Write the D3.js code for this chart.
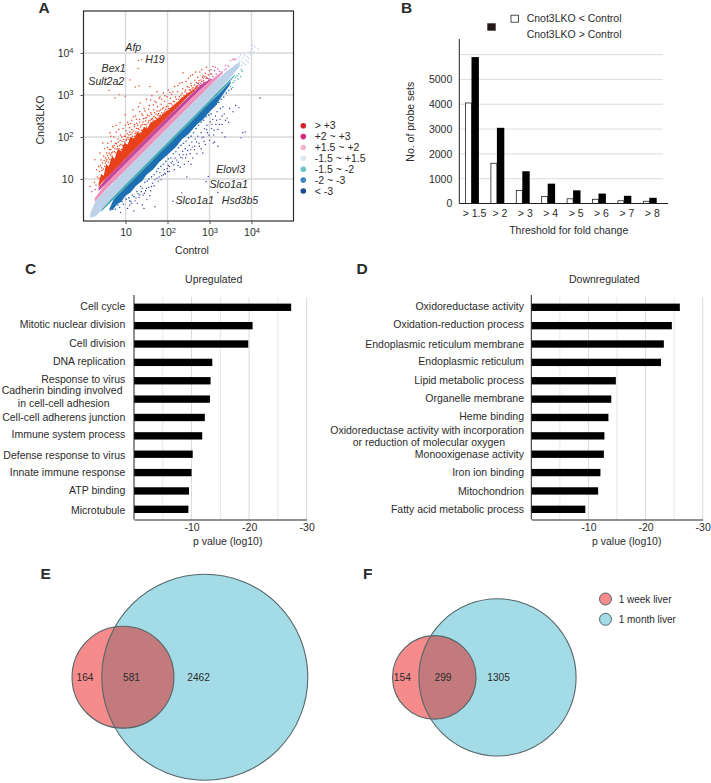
<!DOCTYPE html>
<html><head><meta charset="utf-8">
<script src="https://cdn.jsdelivr.net/npm/d3@7/dist/d3.min.js"></script>
<style>
html,body{margin:0;padding:0;background:#fff}
svg{display:block}
text{font-family:"Liberation Sans",Arial,sans-serif;fill:#2b2b2b}
</style></head><body><svg id="c" width="711" height="783"></svg>
<script>
// ---------- Panel A data (log10 control, log10 Cnot3LKO) ----------
const bandLight=[[.16,.07,.18],[.3,.12,.5],[.6,.46,.8],[1,.875,1.21],[2,1.875,2.21],[3,2.87,3.2],[3.4,3.3,3.56],[3.72,3.68,3.8]];
const bandPink=[[.27,.45,.55],[.5,.71,.85],[1,1.21,1.357],[2,2.21,2.357],[3,3.2,3.33],[3.32,3.52,3.58]];
const bandMagenta=[[.36,.72,.8],[.5,.85,.97],[1,1.357,1.476],[2,2.357,2.476],[2.8,3.14,3.25],[3.05,3.36,3.4]];
const bandOrange=[[.36,.8,.9],[.42,.9,1.12],[.48,.96,1.08],[.54,1.02,1.36],[.6,1.07,1.3],[.68,1.15,1.55],[.74,1.21,1.48],[.82,1.29,1.72],[.9,1.37,1.66],[.97,1.45,1.86],[1.05,1.526,1.82],[1.12,1.6,2.0],[1.2,1.676,1.96],[1.28,1.756,2.12],[1.36,1.836,2.08],[1.44,1.916,2.24],[1.52,1.996,2.2],[1.6,2.076,2.34],[1.7,2.176,2.4],[1.8,2.276,2.46],[1.9,2.376,2.56],[2,2.476,2.62],[2.1,2.576,2.72],[2.2,2.676,2.8],[2.4,2.876,2.98],[2.6,3.076,3.12],[2.72,3.19,3.22]];
const bandTeal=[[.42,.22,.3],[1,.805,.876],[2,1.805,1.876],[3,2.81,2.88],[3.4,3.22,3.28],[3.6,3.46,3.49]];
const bandBlue=[[.62,.24,.3],[.72,.3,.52],[.8,.4,.6],[.9,.46,.7],[1,.6,.805],[1.12,.68,.925],[1.25,.84,1.055],[1.4,.96,1.205],[1.5,1.1,1.305],[1.65,1.22,1.455],[1.8,1.4,1.605],[2,1.58,1.805],[2.2,1.76,2.005],[2.35,1.95,2.155],[2.5,2.07,2.305],[2.7,2.3,2.505],[2.85,2.42,2.66],[3,2.6,2.81],[3.15,2.75,2.95],[3.3,2.98,3.1],[3.5,3.27,3.33]];
const redDots=[.155,.82,.26,.92,.31,1.22,.27,1.46,.33,1.05,.39,1.62,.36,1.3,.42,1.45,.46,1.86,.44,1.2,.48,1.55,.5,1.72,.52,1.38,.55,1.62,.58,1.85,.6,1.5,.63,2.1,.62,1.7,.66,1.9,.68,1.55,.7,2.25,.71,1.75,.72,2.0,.74,1.65,.76,1.85,.78,2.12,.8,1.72,.82,1.95,.84,1.62,.87,2.34,.86,1.8,.88,2.05,.9,1.7,.92,1.9,.94,2.2,.95,1.78,.97,2.02,.99,2.53,1,1.82,1.01,2.15,1.03,1.95,1.05,2.35,1.06,1.8,1.08,2.05,1.1,2.22,1.11,1.9,1.13,1.98,1.15,2.4,1.16,2.1,1.18,2.65,1.19,1.95,1.21,2.25,1.22,2.02,1.24,2.5,1.25,2.12,1.27,2.33,1.28,1.98,1.3,2.2,1.31,2.72,1.33,2.42,1.35,2.81,1.35,2.1,1.37,2.28,1.39,2.55,1.4,2.15,1.42,2.36,1.44,2.68,1.45,2.22,1.47,2.45,1.49,2.3,1.5,2.9,1.52,2.52,1.53,2.2,1.55,2.38,1.57,2.75,1.58,3.2,1.58,2.28,1.6,2.58,1.62,2.42,1.63,2.98,1.65,2.33,1.67,2.65,1.68,2.48,1.7,2.85,1.72,2.38,1.73,2.55,1.75,3.08,1.76,2.72,1.78,2.45,1.8,2.62,1.82,2.95,1.83,2.52,1.85,2.78,1.87,2.48,1.88,2.68,1.9,3.05,1.92,2.58,1.93,2.85,1.95,2.55,1.97,2.72,1.99,2.96,2,2.62,2.02,3.12,2.04,2.8,2.05,2.58,2.07,2.92,2.09,2.68,2.1,3.02,2.12,2.62,2.14,2.85,2.15,2.72,2.17,3.2,2.19,2.95,2.2,2.68,2.22,2.78,2.24,3.08,2.25,2.72,2.27,2.9,2.29,3.28,2.3,2.82,2.32,3.0,2.34,2.78,2.36,3.15,2.37,3.53,2.38,2.92,2.4,2.84,2.42,3.08,2.44,3.32,2.45,2.95,2.47,3.2,2.49,3.0,2.5,3.4,2.52,3.12,2.54,2.98,2.56,3.28,2.58,3.05,2.6,3.48,2.61,3.18,2.63,3.1,2.65,3.35,2.67,3.55,2.68,3.2,2.7,3.14,2.72,3.42,2.74,3.28,2.77,3.55,2.78,3.22,2.8,3.36,2.82,3.6,2.85,3.46,2.87,3.3,2.9,3.52,2.93,3.66,2.95,3.4,3.0,3.58,3.05,3.5,3.08,3.68];
const redFuzz=[.37,1.02,.38,1.18,.4,1.32,.43,1.27,.45,1.38,.47,1.24,.49,1.44,.51,1.3,.53,1.5,.54,1.42,.56,1.46,.57,1.56,.59,1.4,.61,1.62,.63,1.46,.64,1.58,.65,1.7,.67,1.62,.69,1.78,.7,1.64,.73,1.8,.75,1.72,.77,1.62,.79,1.84,.81,1.78,.83,1.88,.85,1.72,.87,1.92,.89,1.82,.91,2,.93,1.8,.96,1.94,.98,1.88,1.0,2.02,1.02,1.92,1.04,2.08,1.06,1.98,1.09,1.94,1.1,2.12,1.13,2.06,1.15,2.18,1.17,2.02,1.2,2.14,1.22,2.3,1.23,2.08,1.26,2.2,1.29,2.28,1.3,2.12,1.32,2.18,1.34,2.36,1.36,2.24,1.38,2.16,1.41,2.3,1.43,2.44,1.46,2.3,1.48,2.38,1.5,2.24,1.51,2.46,1.54,2.34,1.56,2.5,1.59,2.4,1.61,2.34,1.62,2.54,1.64,2.44,1.66,2.4,1.69,2.58,1.71,2.46,1.74,2.44,1.75,2.62,1.77,2.52,1.79,2.56,1.81,2.5,1.84,2.64,1.86,2.58,1.89,2.54,1.91,2.7,1.94,2.62,1.96,2.66,1.98,2.6,2.01,2.74,2.03,2.68,2.06,2.66,2.08,2.8,2.11,2.76,2.13,2.7,2.16,2.84,2.18,2.78,2.21,2.9,2.23,2.82,2.26,2.8,2.28,2.96,2.31,2.88,2.33,2.92,2.35,3.04,2.39,2.98,2.41,2.94,2.43,3.12,2.46,3.04,2.48,3.02,2.51,3.18,2.53,3.06,2.55,3.12,2.57,3.22,2.59,3.14,2.62,3.08,2.64,3.24,2.66,3.16,2.69,3.3,2.71,3.22,2.73,3.18,2.75,3.34,2.79,3.28,2.83,3.42,2.86,3.34,2.89,3.44,2.92,3.4,2.97,3.48,1.0,2.28,1.07,2.3,.84,2.18,.77,2.28,.65,2.02,.57,1.75,1.12,2.32,1.19,2.48,1.26,2.42,1.34,2.6,1.41,2.52,1.46,2.62,1.55,2.66,1.6,2.88,1.66,2.76,1.73,2.82,1.8,2.92,1.86,2.9,1.94,2.98,2.06,3.06,2.13,3.08,2.25,3.22,2.35,3.3,2.55,3.46];
const redTop=[1.31,3.82,1.39,3.84,1.3,3.63,1.11,3.36,.61,3.11,.75,2.93,.85,3.01,.99,2.97,1.23,3.19,1.32,3.22];
const magentaDots=[2.75,3.24,2.82,3.32,2.88,3.28,2.93,3.42,2.98,3.38,3.02,3.5,3.08,3.44,3.12,3.58,3.16,3.5,3.2,3.62,3.24,3.56,3.04,3.6,3.14,3.66,2.72,3.28,2.86,3.4,.2,.7,.3,.85,.28,.75];
const pinkDots=[3.05,3.32,3.12,3.4,3.18,3.42,3.24,3.48,3.3,3.56,3.36,3.6,3.4,3.62,3.44,3.7,3.5,3.82,3.55,3.85,3.6,3.86,3.62,3.85,3.58,3.84,3.46,3.68,3.38,3.7];
const lightDots=[3.72,3.82,3.78,3.78,3.8,3.88,3.84,3.95,3.88,3.82,3.9,3.92,3.93,3.87,3.95,4.02,3.98,3.96,4,4.03,4.02,4.1,4.06,4.02,4.08,4.15,4.15,4.1,4.02,4.18,3.7,3.9,3.76,3.7,3.82,3.75,3.66,3.85,3.86,3.72,3.74,3.96,3.92,3.78];
const tealDots=[3.5,3.2,3.56,3.3,3.6,3.34,3.62,3.42,3.66,3.46,3.7,3.5,3.74,3.44,3.68,3.38,3.78,3.56,3.55,3.18,3.45,3.12,3.76,3.6];
const blueDots=[.7,.28,.76,.28,.82,.38,.86,.32,.92,.46,.95,.4,1.02,.52,1.08,.55,1.1,.48,1.16,.62,1.2,.58,1.27,.7,1.3,.65,1.36,.82,1.4,.78,1.46,.92,1.52,.95,1.56,1.0,1.62,1.05,1.68,1.1,1.74,1.18,1.78,1.25,1.84,1.3,1.9,1.35,1.96,1.42,2.02,1.48,2.08,1.5,2.14,1.6,2.2,1.65,2.26,1.74,2.32,1.8,2.38,1.85,2.44,1.9,2.5,1.98,2.56,2.02,2.62,2.1,2.68,2.2,2.74,2.28,2.8,2.35,2.86,2.4,2.92,2.48,2.98,2.52,3.04,2.55,3.1,2.72,3.16,2.78,3.22,2.82,3.28,2.9,3.34,2.95,3.4,3.05,3.46,3.1,3.52,3.14];
const navyDots=[4.2,2.93,3.85,2.12,3.79,2.1,3.75,1.98,3.37,2,3.09,1.86,3.2,1.78,2.97,1.06,2.92,.94,3.2,.68,2.13,.47,1.7,.34,2.46,1.05,2.34,.67,1.51,.51,1.2,.24,1.05,.3,.88,.2,1.4,.38,1.28,.42,1.15,.42,1.34,.62,1.45,.66,1.58,.6,1.62,.82,1.78,.95,1.85,.98,1.9,1.1,1.95,1.12,2.0,1.18,2.05,1.3,2.16,1.22,2.26,1.4,2.3,1.28,2.35,1.5,2.4,1.35,2.45,1.58,2.5,1.42,2.55,1.7,2.6,1.5,2.65,1.78,2.7,1.6,2.75,1.85,2.8,1.72,2.85,2.0,2.9,1.82,2.95,2.1,3.0,1.92,3.05,2.2,3.1,2.05,3.15,2.3,3.2,2.18,3.25,2.42,3.3,2.3,3.35,2.55,3.42,2.45,3.48,2.68,3.56,2.6,3.62,2.75,3.7,2.7,1.1,.38,1.25,.55,1.38,.7,1.5,.78,1.65,.9,1.75,1.02,1.82,1.15,1.92,1.22,2.02,1.32,2.12,1.42,2.18,1.5,2.28,1.58,2.36,1.66,2.42,1.72,2.52,1.8,2.58,1.88,2.66,1.95,2.72,2.02,2.8,2.1,2.88,2.2,2.94,2.28,3.02,2.36,3.08,2.42,3.14,2.5,3.18,2.6,3.26,2.68,3.32,2.72,2.56,1.35,2.84,1.62,3.12,1.88,3.3,2.1,3.46,2.35,1.44,.3,1.13,.46,1.23,.48,1.32,.56,1.42,.62,1.48,.72,1.55,.8,1.6,.72,1.68,.84,1.7,.98,1.8,1.05,1.86,1.08,1.93,1.14,1.99,1.25,2.04,1.18,2.09,1.38,2.15,1.34,2.22,1.45,2.25,1.32,2.31,1.52,2.37,1.58,2.43,1.5,2.48,1.68,2.54,1.6,2.59,1.76,2.64,1.7,2.69,1.88,2.76,1.78,2.82,1.98,2.87,1.9,2.93,2.18,2.99,2.04,3.06,2.3,3.11,2.16,3.17,2.4,3.24,2.3,3.3,2.5,3.38,2.4];
const geneNames=["Afp","H19","Bex1","Sult2a2","Elovl3","Slco1a1","Slco1a1","Hsd3b5"];
const scatterLegend=["> +3","+2 ~ +3","+1.5 ~ +2","-1.5 ~ +1.5","-1.5 ~ -2","-2 ~ -3","< -3"];
const scatterTicks=[10,100,1000,10000];
// ---------- Panel B data ----------
const thresholds=["> 1.5","> 2","> 3","> 4","> 5","> 6","> 7","> 8"];
const koLower=[4050,1620,530,280,190,170,110,90];
const koHigher=[5900,3050,1300,800,530,400,310,230];
const countGrid=[1000,2000,3000,4000,5000,6000];
const countTicks=[0,1000,2000,3000,4000,5000];
// ---------- Panels C, D data ----------
const upTerms=["Cell cycle","Mitotic nuclear division","Cell division","DNA replication","Response to virus",["Cadherin binding involved","in cell-cell adhesion"],"Cell-cell adherens junction","Immune system process","Defense response to virus","Innate immune response","ATP binding","Microtubule"];
const upValues=[27.3,20.6,19.85,13.6,13.3,13.2,12.3,11.85,10.2,10,9.55,9.45];
const downTerms=["Oxidoreductase activity","Oxidation-reduction process","Endoplasmic reticulum membrane","Endoplasmic reticulum","Lipid metabolic process","Organelle membrane","Heme binding",["Oxidoreductase activity with incorporation","or reduction of molecular oxygen"],"Monooxigenase activity","Iron ion binding","Mitochondrion","Fatty acid metabolic process"];
const downValues=[26,24.6,23.2,22.7,14.8,14,13.5,12.8,12.7,12.1,11.7,9.45];
const pGrid=[5,10,15,20,25,30];
const pTicks=[10,20,30];
// ---------- Panels E, F data ----------
const vennE=[164,581,2462];
const vennF=[154,299,1305];
const vennLegend=["1 week liver","1 month liver"];

const svg=d3.select("#c");
const FS=10.5;
function label(g,x,y,t,o={}){
  return g.append("text").attr("x",x).attr("y",y).attr("dy",".35em")
    .attr("font-size",o.size||FS).attr("text-anchor",o.anchor||"start")
    .attr("font-style",o.italic?"italic":null).attr("font-weight",o.bold?"bold":null)
    .attr("transform",o.rotate?`rotate(${o.rotate},${x},${y})`:null).text(t);
}
[["A",38.5,8],["B",401,8],["C",25,268.5],["D",356.5,268.5],["E",40.5,573.5],["F",363,573.5]]
  .forEach(d=>label(svg,d[1],d[2],d[0],{size:15.5,bold:true}));

// ===== A =====
const xA=d3.scaleLog().domain([1,1e5]).range([83.5,293.5]);
const yA=d3.scaleLog().domain([1,1e5]).range([221,11]);
const gA=svg.append("g");
gA.append("g").selectAll("line").data(scatterTicks).join("line")
  .attr("x1",d=>xA(d)).attr("x2",d=>xA(d)).attr("y1",yA.range()[0]).attr("y2",yA.range()[1]).attr("stroke","#d9d9d9").attr("stroke-width",1.4);
gA.append("g").selectAll("line").data(scatterTicks).join("line")
  .attr("y1",d=>yA(d)).attr("y2",d=>yA(d)).attr("x1",xA.range()[0]).attr("x2",xA.range()[1]).attr("stroke","#d9d9d9").attr("stroke-width",1.4);
const pairs=a=>d3.range(0,a.length,2).map(i=>[a[i],a[i+1]]);
const areaA=d3.area().x(d=>xA(10**d[0])).y0(d=>yA(10**d[1])).y1(d=>yA(10**d[2]));
function dots(a,c,r){gA.append("g").selectAll("circle").data(pairs(a)).join("circle")
  .attr("cx",d=>xA(10**d[0])).attr("cy",d=>yA(10**d[1])).attr("r",r).attr("fill",c);}
dots(redDots,"#e8431f",.75);dots(redFuzz,"#e8431f",.75);dots(redTop,"#e8431f",.7);
dots(navyDots,"#34389a",.7);dots(blueDots,"#2a62ac",.8);
[[bandOrange,"#e8411b"],[bandMagenta,"#c6479a"],[bandPink,"#ee92bd"],[bandBlue,"#1c6fb3"],[bandTeal,"#41a9ad"],[bandLight,"#bdd1e8"]]
  .forEach(b=>gA.append("path").attr("d",areaA(b[0])).attr("fill",b[1]));
dots(magentaDots,"#cc55a5",.8);dots(pinkDots,"#ef9cc4",.85);dots(tealDots,"#4fb3b7",.8);dots(lightDots,"#c4d6ea",.85);
gA.append("rect").attr("x",83.5).attr("y",11).attr("width",210).attr("height",210).attr("fill","none").attr("stroke","#2e2e2e").attr("stroke-width",1.2);
function powLabels(sel){sel.selectAll(".tick text").each(function(d){
  const t=d3.select(this);t.text("10").attr("font-size",FS);
  if(d>10)t.append("tspan").attr("dy","-.5em").attr("font-size",7.5).text(Math.round(Math.log10(d)));
});}
const axA=gA.append("g").attr("transform","translate(0,221)").call(d3.axisBottom(xA).tickValues(scatterTicks).tickSize(3).tickPadding(5));
const ayA=gA.append("g").attr("transform","translate(83.5,0)").call(d3.axisLeft(yA).tickValues(scatterTicks).tickSize(3).tickPadding(7));
[axA,ayA].forEach(a=>{a.select(".domain").remove();a.selectAll("line").attr("stroke","#555");a.attr("font-family",null).attr("font-size",FS);powLabels(a);});
label(gA,192,250.7,"Control",{anchor:"middle"});
label(gA,40.7,120,"Cnot3LKO",{anchor:"middle",rotate:-90});
const genePos=[[133.3,47.3],[155,59.3],[113.7,68.3],[106.3,81.7],[230.7,169.3],[228.7,184],[194.7,200.7],[240,200.7]];
geneNames.forEach((n,i)=>label(gA,genePos[i][0],genePos[i][1],n,{anchor:"middle",italic:true,size:10.6}));
const legColors=["#d2232a","#d6287f","#f2b5c9","#dce8ee","#6cc4c8","#3e86c4","#1d4a96"];
const legY=d3.scalePoint().domain(scatterLegend).range([125.7,191]);
scatterLegend.forEach((t,i)=>{
  gA.append("circle").attr("cx",303.3).attr("cy",legY(t)).attr("r",2.8).attr("fill",legColors[i]);
  label(gA,314.7,legY(t),t);
});

// ===== B =====
const gB=svg.append("g");
const xB=d3.scaleBand().domain(thresholds).range([458.8,662]);
const yB=d3.scaleLinear().domain([0,6000]).range([203.5,54.6]);
gB.append("g").selectAll("line").data(countGrid).join("line").attr("x1",459.3).attr("x2",663)
  .attr("y1",d=>yB(d)).attr("y2",d=>yB(d)).attr("stroke","#dcdcdc").attr("stroke-width",1);
gB.append("g").selectAll("rect").data(koLower).join("rect").attr("x",(d,i)=>xB(thresholds[i])+xB.bandwidth()/2-6)
  .attr("width",6).attr("y",d=>yB(d)).attr("height",d=>yB(0)-yB(d)).attr("fill","#fff").attr("stroke","#222").attr("stroke-width",.8);
gB.append("g").selectAll("rect").data(koHigher).join("rect").attr("x",(d,i)=>xB(thresholds[i])+xB.bandwidth()/2)
  .attr("width",7.4).attr("y",d=>yB(d)).attr("height",d=>yB(0)-yB(d)).attr("fill","#000");
gB.append("line").attr("x1",459.3).attr("x2",459.3).attr("y1",39).attr("y2",203.5).attr("stroke","#222");
gB.append("line").attr("x1",459.3).attr("x2",668).attr("y1",203.5).attr("y2",203.5).attr("stroke","#222");
const ayB=gB.append("g").attr("transform","translate(459.3,0)").call(d3.axisLeft(yB).tickValues(countTicks).tickSize(0).tickPadding(7).tickFormat(d3.format("d")));
ayB.select(".domain").remove();ayB.attr("font-family",null).attr("font-size",FS);
const axB=gB.append("g").attr("transform","translate(3,203.5)").call(d3.axisBottom(xB).tickSize(0).tickPadding(6));
axB.select(".domain").remove();axB.attr("font-family",null).attr("font-size",FS);
label(gB,568.7,230,"Threshold for fold change",{anchor:"middle"});
label(gB,410,121.7,"No. of probe sets",{anchor:"middle",rotate:-90});
gB.append("rect").attr("x",511).attr("y",15.2).attr("width",7.6).attr("height",7).attr("fill","#fff").attr("stroke","#222").attr("stroke-width",.8);
gB.append("rect").attr("x",487.3).attr("y",23.3).attr("width",8.4).attr("height",7.4).attr("fill","#231815");
label(gB,526.7,18.3,"Cnot3LKO < Control");label(gB,526.7,34.3,"Cnot3LKO > Control");

// ===== C, D =====
function barPanel(terms,vals,x0,x1,labelX,title,titleX,titleY,nudge,multi,pX){
  const g=svg.append("g");
  const x=d3.scaleLinear().domain([0,30]).range([x0,x1]);
  const names=terms.map(t=>Array.isArray(t)?t[0]:t);
  const y=d3.scaleBand().domain(names).range([298.1,518.5]).paddingInner(.6).paddingOuter(.3);
  g.append("g").selectAll("line").data(pGrid).join("line").attr("x1",d=>x(d)).attr("x2",d=>x(d))
    .attr("y1",297).attr("y2",519.5).attr("stroke",d=>d%10?"#e6e6e6":"#dadada").attr("stroke-width",1);
  g.append("g").selectAll("rect").data(vals).join("rect").attr("x",x0).attr("y",(d,i)=>y(names[i]))
    .attr("width",d=>x(d)-x0).attr("height",y.bandwidth()).attr("fill","#000");
  g.append("line").attr("x1",x0).attr("x2",x0).attr("y1",295).attr("y2",519.5).attr("stroke","#222");
  const ax=g.append("g").attr("transform","translate(0,519.5)").call(d3.axisBottom(x).tickValues(pTicks).tickSize(0).tickPadding(4).tickFormat(d=>"-"+d));
  ax.select(".domain").attr("stroke","#222");ax.attr("font-family",null).attr("font-size",FS);
  label(g,pX,541,"p value (log10)",{anchor:"middle"});
  label(g,titleX,titleY,title,{anchor:"middle"});
  terms.forEach((t,i)=>{
    const yy=y(names[i])+y.bandwidth()/2+nudge[i];
    if(Array.isArray(t)){
      label(g,multi[0],multi[2],t[0],{anchor:"end"});
      label(g,multi[1],multi[3],t[1],{anchor:"end"});
    } else label(g,labelX,yy,t,{anchor:"end"});
  });
}
barPanel(upTerms,upValues,134,306.7,125.3,"Upregulated",213.7,279,[-.7,-1,-.3,-.7,-1.3,0,0,-1.3,.7,-.3,-.3,.7],[122.5,109.5,390.8,403],227.7);
barPanel(downTerms,downValues,531.3,702.7,524,"Downregulated",604.3,279,[-.7,-1,.3,-1,-.3,-.7,-1.3,0,.3,0,0,0],[524,505,430,442.7],626.7);

// ===== E, F =====
function venn(vals,k,cxBig,cy,dist,id,textX){
  const g=svg.append("g");
  const r=d3.scaleSqrt().domain([0,1]).range([0,k]);
  const rS=r(vals[0]+vals[1]),rB=r(vals[1]+vals[2]),cxS=cxBig-dist;
  g.append("circle").attr("cx",cxBig).attr("cy",cy).attr("r",rB).attr("fill","#a3dce6");
  g.append("circle").attr("cx",cxS).attr("cy",cy).attr("r",rS).attr("fill","#f58b8b");
  g.append("clipPath").attr("id",id).append("circle").attr("cx",cxBig).attr("cy",cy).attr("r",rB);
  g.append("circle").attr("cx",cxS).attr("cy",cy).attr("r",rS).attr("fill","#c27a7c").attr("clip-path",`url(#${id})`);
  [[cxBig,rB],[cxS,rS]].forEach(c=>g.append("circle").attr("cx",c[0]).attr("cy",cy).attr("r",c[1]).attr("fill","none").attr("stroke","#56666a").attr("stroke-width",1.1));
  vals.forEach((v,i)=>label(g,textX[i],cy,v,{anchor:"middle",size:10.2}));
}
venn(vennE,103/Math.sqrt(3043),204.8,677.2,81.8,"ce",[85,131.5,198.6]);
venn(vennF,78.6/Math.sqrt(1604),497.5,677.4,63.2,"cf",[402.3,443,498.6]);
const legV=svg.append("g");
[["#f58b8b",599],["#a3dce6",619.3]].forEach((d,i)=>{
  legV.append("circle").attr("cx",605.5).attr("cy",d[1]).attr("r",6).attr("fill",d[0]).attr("stroke","#56666a").attr("stroke-width",1);
  label(legV,618.7,d[1],vennLegend[i],{size:10});
});
</script></body></html>
